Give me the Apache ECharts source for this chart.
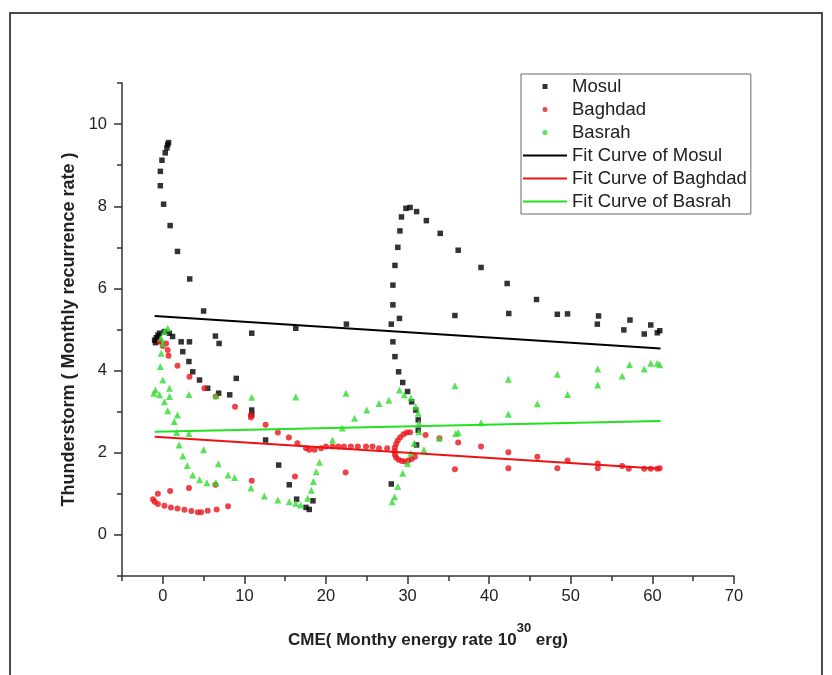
<!DOCTYPE html>
<html>
<head>
<meta charset="utf-8">
<script src="https://cdn.jsdelivr.net/npm/echarts@6/dist/echarts.min.js"></script>
<style>
  html, body { margin: 0; padding: 0; background: #fff; }
  #chart { width: 832px; height: 675px; }
</style>
</head>
<body>
<div id="chart"></div>
<script>
// Monthly CME energy (10^30 erg) vs. thunderstorm recurrence rate, three stations
const mosul = [
  [0.7, 9.55], [0.6, 9.5], [0.5, 9.42], [0.3, 9.3], [-0.1, 9.12], [-0.3, 8.85], [-0.3, 8.5],
  [0.1, 8.05], [0.9, 7.53], [1.8, 6.9], [3.3, 6.23], [5.0, 5.45],
  [-1.0, 4.74], [-0.8, 4.8], [-0.6, 4.86], [-0.4, 4.91], [0.2, 4.95], [0.8, 4.91], [1.2, 4.83],
  [-0.9, 4.68], [-0.5, 4.72], [2.25, 4.7], [3.27, 4.7], [2.45, 4.46], [3.2, 4.22], [3.67, 3.97],
  [4.5, 3.77], [5.5, 3.57], [6.45, 4.84], [6.9, 4.66], [6.85, 3.45], [8.2, 3.41], [9.0, 3.81],
  [10.9, 4.91], [10.9, 3.04], [10.9, 2.92], [12.6, 2.31], [14.2, 1.7], [15.5, 1.22], [16.4, 0.87],
  [17.55, 0.67], [17.95, 0.62], [18.4, 0.83], [16.3, 5.03], [22.5, 5.13],
  [28.0, 1.24], [28.0, 5.13], [28.2, 5.6], [28.2, 6.08], [28.45, 6.56], [28.8, 7.0], [29.06, 7.4],
  [29.25, 7.74], [29.8, 7.95], [30.3, 7.97], [31.1, 7.87], [32.3, 7.65], [34.0, 7.34], [29.0, 5.27],
  [28.2, 4.7], [28.45, 4.34], [28.9, 3.97], [29.4, 3.71], [30.0, 3.49], [30.5, 3.24], [31.0, 3.04],
  [31.3, 2.8], [31.3, 2.55], [31.1, 2.19],
  [35.8, 5.34], [36.2, 6.93], [39.0, 6.51], [42.2, 6.12], [42.4, 5.39], [45.8, 5.73], [48.35, 5.37],
  [49.6, 5.38], [53.4, 5.33], [53.25, 5.13], [57.25, 5.23], [56.5, 4.99], [59.0, 4.89], [59.8, 5.11],
  [60.6, 4.92], [60.9, 4.97]
];

const baghdad = [
  [-0.4, 4.7], [0.0, 4.6], [0.4, 4.66], [0.6, 4.5], [0.7, 4.36], [1.8, 4.12], [3.27, 3.85],
  [5.1, 3.57], [6.5, 3.37], [8.85, 3.12], [10.8, 2.92], [10.8, 2.86], [12.6, 2.68], [14.1, 2.49],
  [15.45, 2.37], [16.5, 2.23], [17.55, 2.11], [17.95, 2.07], [18.6, 2.07], [19.4, 2.11], [20.0, 2.15],
  [20.8, 2.15], [21.5, 2.15], [22.2, 2.15], [23.05, 2.15], [23.9, 2.15], [24.9, 2.15], [25.7, 2.15],
  [26.5, 2.11], [27.5, 2.11],
  [30.3, 2.5], [29.9, 2.49], [29.5, 2.45], [29.1, 2.38], [28.8, 2.3], [28.6, 2.22], [28.45, 2.13],
  [28.4, 2.04], [28.45, 1.95], [28.6, 1.88], [28.9, 1.83], [29.3, 1.8], [29.7, 1.79], [30.1, 1.81],
  [30.5, 1.85], [30.9, 1.9],
  [32.2, 2.43], [33.9, 2.35], [36.2, 2.25], [35.8, 1.6], [39.0, 2.15], [42.35, 2.01], [42.35, 1.62],
  [45.9, 1.9], [48.35, 1.62], [49.6, 1.81], [53.3, 1.74], [53.3, 1.62], [56.3, 1.68], [57.1, 1.61],
  [59.0, 1.61], [59.8, 1.61], [60.6, 1.61], [60.9, 1.62],
  [-0.6, 1.0], [-1.2, 0.87], [-1.0, 0.81], [-0.6, 0.75], [0.2, 0.71], [1.0, 0.67], [1.8, 0.64],
  [2.65, 0.61], [3.5, 0.58], [4.3, 0.55], [4.7, 0.55], [5.5, 0.59], [6.6, 0.62], [8.0, 0.7],
  [0.9, 1.07], [3.2, 1.14], [6.45, 1.22], [10.9, 1.32], [16.2, 1.42], [22.4, 1.52]
];

const basrah = [
  [0.6, 5.03], [0.2, 4.95], [-0.2, 4.79], [0.0, 4.66], [-0.2, 4.42], [-0.3, 4.1], [0.0, 3.77],
  [-0.9, 3.53], [-1.1, 3.45], [-0.4, 3.41], [0.82, 3.57], [0.82, 3.37], [0.2, 3.24], [0.6, 3.02],
  [1.8, 2.92], [1.4, 2.76], [1.7, 2.49], [3.2, 3.42], [3.2, 2.47], [2.0, 2.19], [2.45, 1.92],
  [3.0, 1.69], [3.67, 1.46], [4.5, 1.34], [5.4, 1.27], [6.5, 1.27], [5.0, 2.07], [6.8, 1.73],
  [8.0, 1.46], [8.8, 1.4], [6.5, 3.39], [10.9, 3.35], [10.8, 1.14], [12.45, 0.95], [14.1, 0.85],
  [15.5, 0.81], [16.3, 0.77], [16.9, 0.73], [17.75, 0.89], [18.2, 1.09], [18.45, 1.3], [18.8, 1.54],
  [19.2, 1.77], [16.3, 3.36], [20.8, 2.31], [22.0, 2.6], [23.5, 2.84], [25.0, 3.04], [26.5, 3.2],
  [27.7, 3.28], [22.45, 3.45], [29.0, 3.53], [29.6, 3.41], [30.4, 3.33], [31.0, 3.12], [31.3, 2.96],
  [31.4, 2.72], [31.4, 2.51], [30.8, 2.23], [30.4, 1.99], [30.0, 1.74], [29.4, 1.5], [28.8, 1.18],
  [28.4, 0.93], [28.1, 0.81], [32.0, 2.07], [33.9, 2.35], [35.9, 2.47], [35.8, 3.63], [36.2, 2.49],
  [39.0, 2.73], [42.35, 3.79], [42.35, 2.94], [45.9, 3.19], [48.35, 3.91], [49.6, 3.42], [53.3, 4.04],
  [53.3, 3.65], [56.3, 3.87], [57.2, 4.14], [59.0, 4.04], [59.8, 4.18], [60.6, 4.18], [60.9, 4.14]
];

// Linear fits (end points of each fitted line)
const mosulFit = [[-1.0, 5.33], [61.0, 4.54]];
const baghdadFit = [[-1.0, 2.39], [61.0, 1.61]];
const basrahFit = [[-1.0, 2.51], [61.0, 2.77]];

// Axis ticks
const xTicks = [0, 10, 20, 30, 40, 50, 60, 70];
const xMinorTicks = [-5, 5, 15, 25, 35, 45, 55, 65];
const yTicks = [0, 2, 4, 6, 8, 10];
const yMinorTicks = [-1, 1, 3, 5, 7, 9, 11];

const FONT = '"Liberation Sans", Arial, sans-serif';
const AXIS_COLOR = '#333';
const TEXT_COLOR = '#222';

// Legend glyphs: a small square dot and a flat bar for the fitted lines
const SQUARE_ICON = 'path://M0,0H10V10H0Z';
const LINE_ICON = 'path://M0,0H44V2H0Z';

const chart = echarts.init(document.getElementById('chart'));

const baseX = { type: 'value', min: -5, max: 70, gridIndex: 0, position: 'bottom', splitLine: { show: false } };
const baseY = { type: 'value', min: -1, max: 11, gridIndex: 0, position: 'left', splitLine: { show: false } };

chart.setOption({
  animation: false,
  backgroundColor: '#fff',
  graphic: [{
    type: 'rect', silent: true, z: -10,
    shape: { x: 10, y: 13, width: 812, height: 700 },
    style: { fill: 'none', stroke: '#111', lineWidth: 1.5 }
  }],
  grid: { left: 122, top: 83, width: 612, height: 493, containLabel: false },
  xAxis: [
    Object.assign({}, baseX, {
      axisLine: { show: true, onZero: false, lineStyle: { color: AXIS_COLOR, width: 1.5 } },
      axisTick: { show: true, inside: false, length: 8, customValues: xTicks, lineStyle: { color: AXIS_COLOR, width: 1.5 } },
      axisLabel: { show: true, customValues: xTicks, margin: 12, fontFamily: FONT, fontSize: 16.5, color: TEXT_COLOR },
      name: '{t|CME( Monthy energy rate 10}{s|30}{t| erg)}',
      nameLocation: 'middle',
      nameGap: 46,
      nameTextStyle: {
        rich: {
          t: { fontFamily: FONT, fontSize: 17, fontWeight: 'bold', color: TEXT_COLOR, lineHeight: 27, verticalAlign: 'bottom' },
          s: { fontFamily: FONT, fontSize: 13, fontWeight: 'bold', color: TEXT_COLOR, lineHeight: 27, verticalAlign: 'top' }
        }
      }
    }),
    Object.assign({}, baseX, {
      axisLine: { show: false, onZero: false },
      axisTick: { show: true, inside: false, length: 5, customValues: xMinorTicks, lineStyle: { color: AXIS_COLOR, width: 1.5 } },
      axisLabel: { show: false }
    })
  ],
  yAxis: [
    Object.assign({}, baseY, {
      axisLine: { show: true, onZero: false, lineStyle: { color: AXIS_COLOR, width: 1.5 } },
      axisTick: { show: true, inside: false, length: 8, customValues: yTicks, lineStyle: { color: AXIS_COLOR, width: 1.5 } },
      axisLabel: { show: true, customValues: yTicks, margin: 15, fontFamily: FONT, fontSize: 16.5, color: TEXT_COLOR },
      name: 'Thunderstorm ( Monthly recurrence rate )',
      nameLocation: 'middle',
      nameRotate: 90,
      nameGap: 41,
      nameTextStyle: { fontFamily: FONT, fontSize: 18, fontWeight: 'bold', color: TEXT_COLOR }
    }),
    Object.assign({}, baseY, {
      axisLine: { show: false, onZero: false },
      axisTick: { show: true, inside: false, length: 5, customValues: yMinorTicks, lineStyle: { color: AXIS_COLOR, width: 1.5 } },
      axisLabel: { show: false }
    })
  ],
  legend: {
    orient: 'vertical',
    left: 521,
    top: 74,
    padding: [3, 4, 3, 2],
    itemGap: 4,
    itemWidth: 44,
    itemHeight: 5,
    symbolKeepAspect: true,
    borderColor: '#666',
    borderWidth: 1,
    textStyle: { fontFamily: FONT, fontSize: 18.5, color: TEXT_COLOR, lineHeight: 19 },
    data: [
      { name: 'Mosul', icon: SQUARE_ICON },
      { name: 'Baghdad', icon: 'circle' },
      { name: 'Basrah', icon: 'circle' },
      { name: 'Fit Curve of Mosul', icon: LINE_ICON },
      { name: 'Fit Curve of Baghdad', icon: LINE_ICON },
      { name: 'Fit Curve of Basrah', icon: LINE_ICON }
    ]
  },
  series: [
    { name: 'Mosul', type: 'scatter', data: mosul, symbol: 'rect', symbolSize: 5.5,
      itemStyle: { color: '#000' } },
    { name: 'Baghdad', type: 'scatter', data: baghdad, symbol: 'circle', symbolSize: 6,
      itemStyle: { color: '#e8151b' } },
    { name: 'Basrah', type: 'scatter', data: basrah, symbol: 'triangle', symbolSize: 7,
      itemStyle: { color: '#2edc2e' } },
    { name: 'Fit Curve of Mosul', type: 'line', data: mosulFit, symbol: 'none', showSymbol: false,
      lineStyle: { color: '#000', width: 2 }, itemStyle: { color: '#000' } },
    { name: 'Fit Curve of Baghdad', type: 'line', data: baghdadFit, symbol: 'none', showSymbol: false,
      lineStyle: { color: '#ee1111', width: 2 }, itemStyle: { color: '#ee1111' } },
    { name: 'Fit Curve of Basrah', type: 'line', data: basrahFit, symbol: 'none', showSymbol: false,
      lineStyle: { color: '#22e022', width: 2 }, itemStyle: { color: '#22e022' } }
  ]
});
</script>
</body>
</html>
